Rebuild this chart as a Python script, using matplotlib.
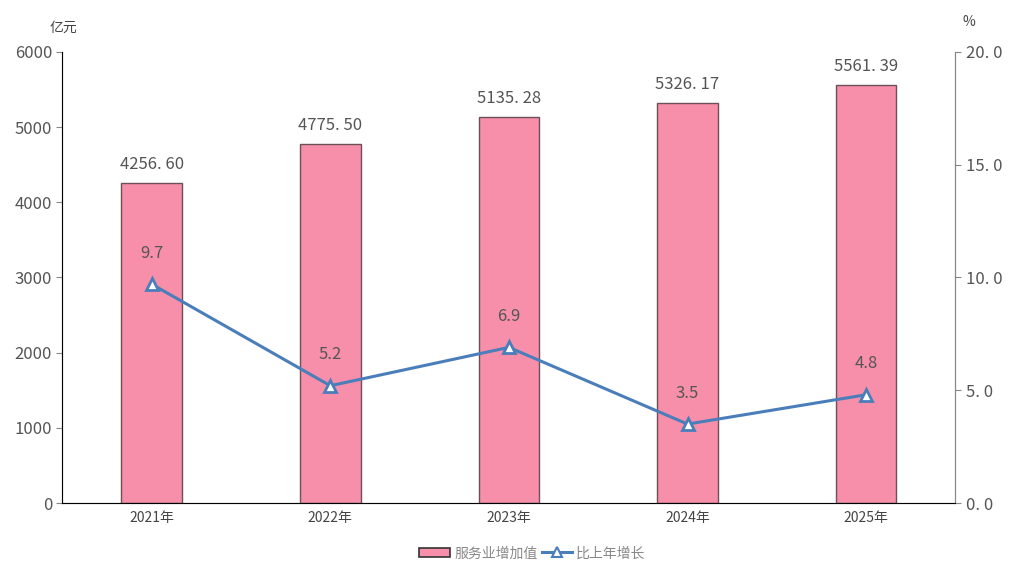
import matplotlib.pyplot as plt
from matplotlib.lines import Line2D
from matplotlib.patches import Patch

plt.rcParams['font.family'] = ['Noto Sans CJK SC', 'DejaVu Sans']

years = ['2021年', '2022年', '2023年', '2024年', '2025年']
value_added = [4256.60, 4775.50, 5135.28, 5326.17, 5561.39]
growth = [9.7, 5.2, 6.9, 3.5, 4.8]

bar_color = '#F78FAA'
line_color = '#4A7EBB'
text_color = '#555555'

fig = plt.figure(figsize=(10.24, 5.7), dpi=100)
ax = fig.add_axes([0.061, 0.1175, 0.872, 0.7915])
x = range(len(years))
ax.bar(x, value_added, width=0.34, color=bar_color, edgecolor='#6b5058', linewidth=1.0)
for i, v in enumerate(value_added):
    ax.text(i, v + 130, f'{v:.2f}'.replace('.', '. '), ha='center', va='bottom',
            fontsize=12, color=text_color)
ax.set_xlim(-0.5, 4.5)
ax.set_ylim(0, 6000)
ax.set_yticks(range(0, 6001, 1000))
ax.set_xticks(list(x))
ax.set_xticklabels(years, fontsize=10, color='#444444')
ax.tick_params(axis='y', labelsize=12, labelcolor=text_color, length=4, color='#888888')
ax.tick_params(axis='x', length=0, pad=6)
for s in ['top']:
    ax.spines[s].set_visible(False)
for s in ['left', 'right', 'bottom']:
    ax.spines[s].set_color('#888888')

ax2 = ax.twinx()
ax2.plot(list(x), growth, color=line_color, linewidth=2.2, marker='^', markersize=9,
         markerfacecolor='white', markeredgecolor=line_color, markeredgewidth=2)
for i, g in enumerate(growth):
    ax2.text(i, g + 1.0, f'{g:.1f}', ha='center', va='bottom', fontsize=12, color=text_color)
ax2.set_ylim(0, 20)
ax2.set_yticks([0, 5, 10, 15, 20])
ax2.set_yticklabels(['0. 0', '5. 0', '10. 0', '15. 0', '20. 0'])
ax2.tick_params(axis='y', labelsize=12, labelcolor=text_color, length=4, color='#888888')
ax2.spines['top'].set_visible(False)
ax2.spines['right'].set_color('#888888')

fig.text(0.048, 0.945, '亿元', fontsize=10, color='#444444')
fig.text(0.94, 0.955, '%', fontsize=10, color='#444444')

handles = [Patch(facecolor=bar_color, edgecolor='#333333', linewidth=1.2),
           Line2D([0], [0], color=line_color, lw=2.2, marker='^', markersize=7,
                  markerfacecolor='white', markeredgecolor=line_color, markeredgewidth=1.5)]
fig.legend(handles, ['服务业增加值', '比上年增长'], loc='lower center', ncol=2,
           bbox_to_anchor=(0.52, -0.005), frameon=False, fontsize=10,
           labelcolor='#888888', handlelength=2.2, columnspacing=0.3, handletextpad=0.3)

fig.savefig('out.png', dpi=100)
